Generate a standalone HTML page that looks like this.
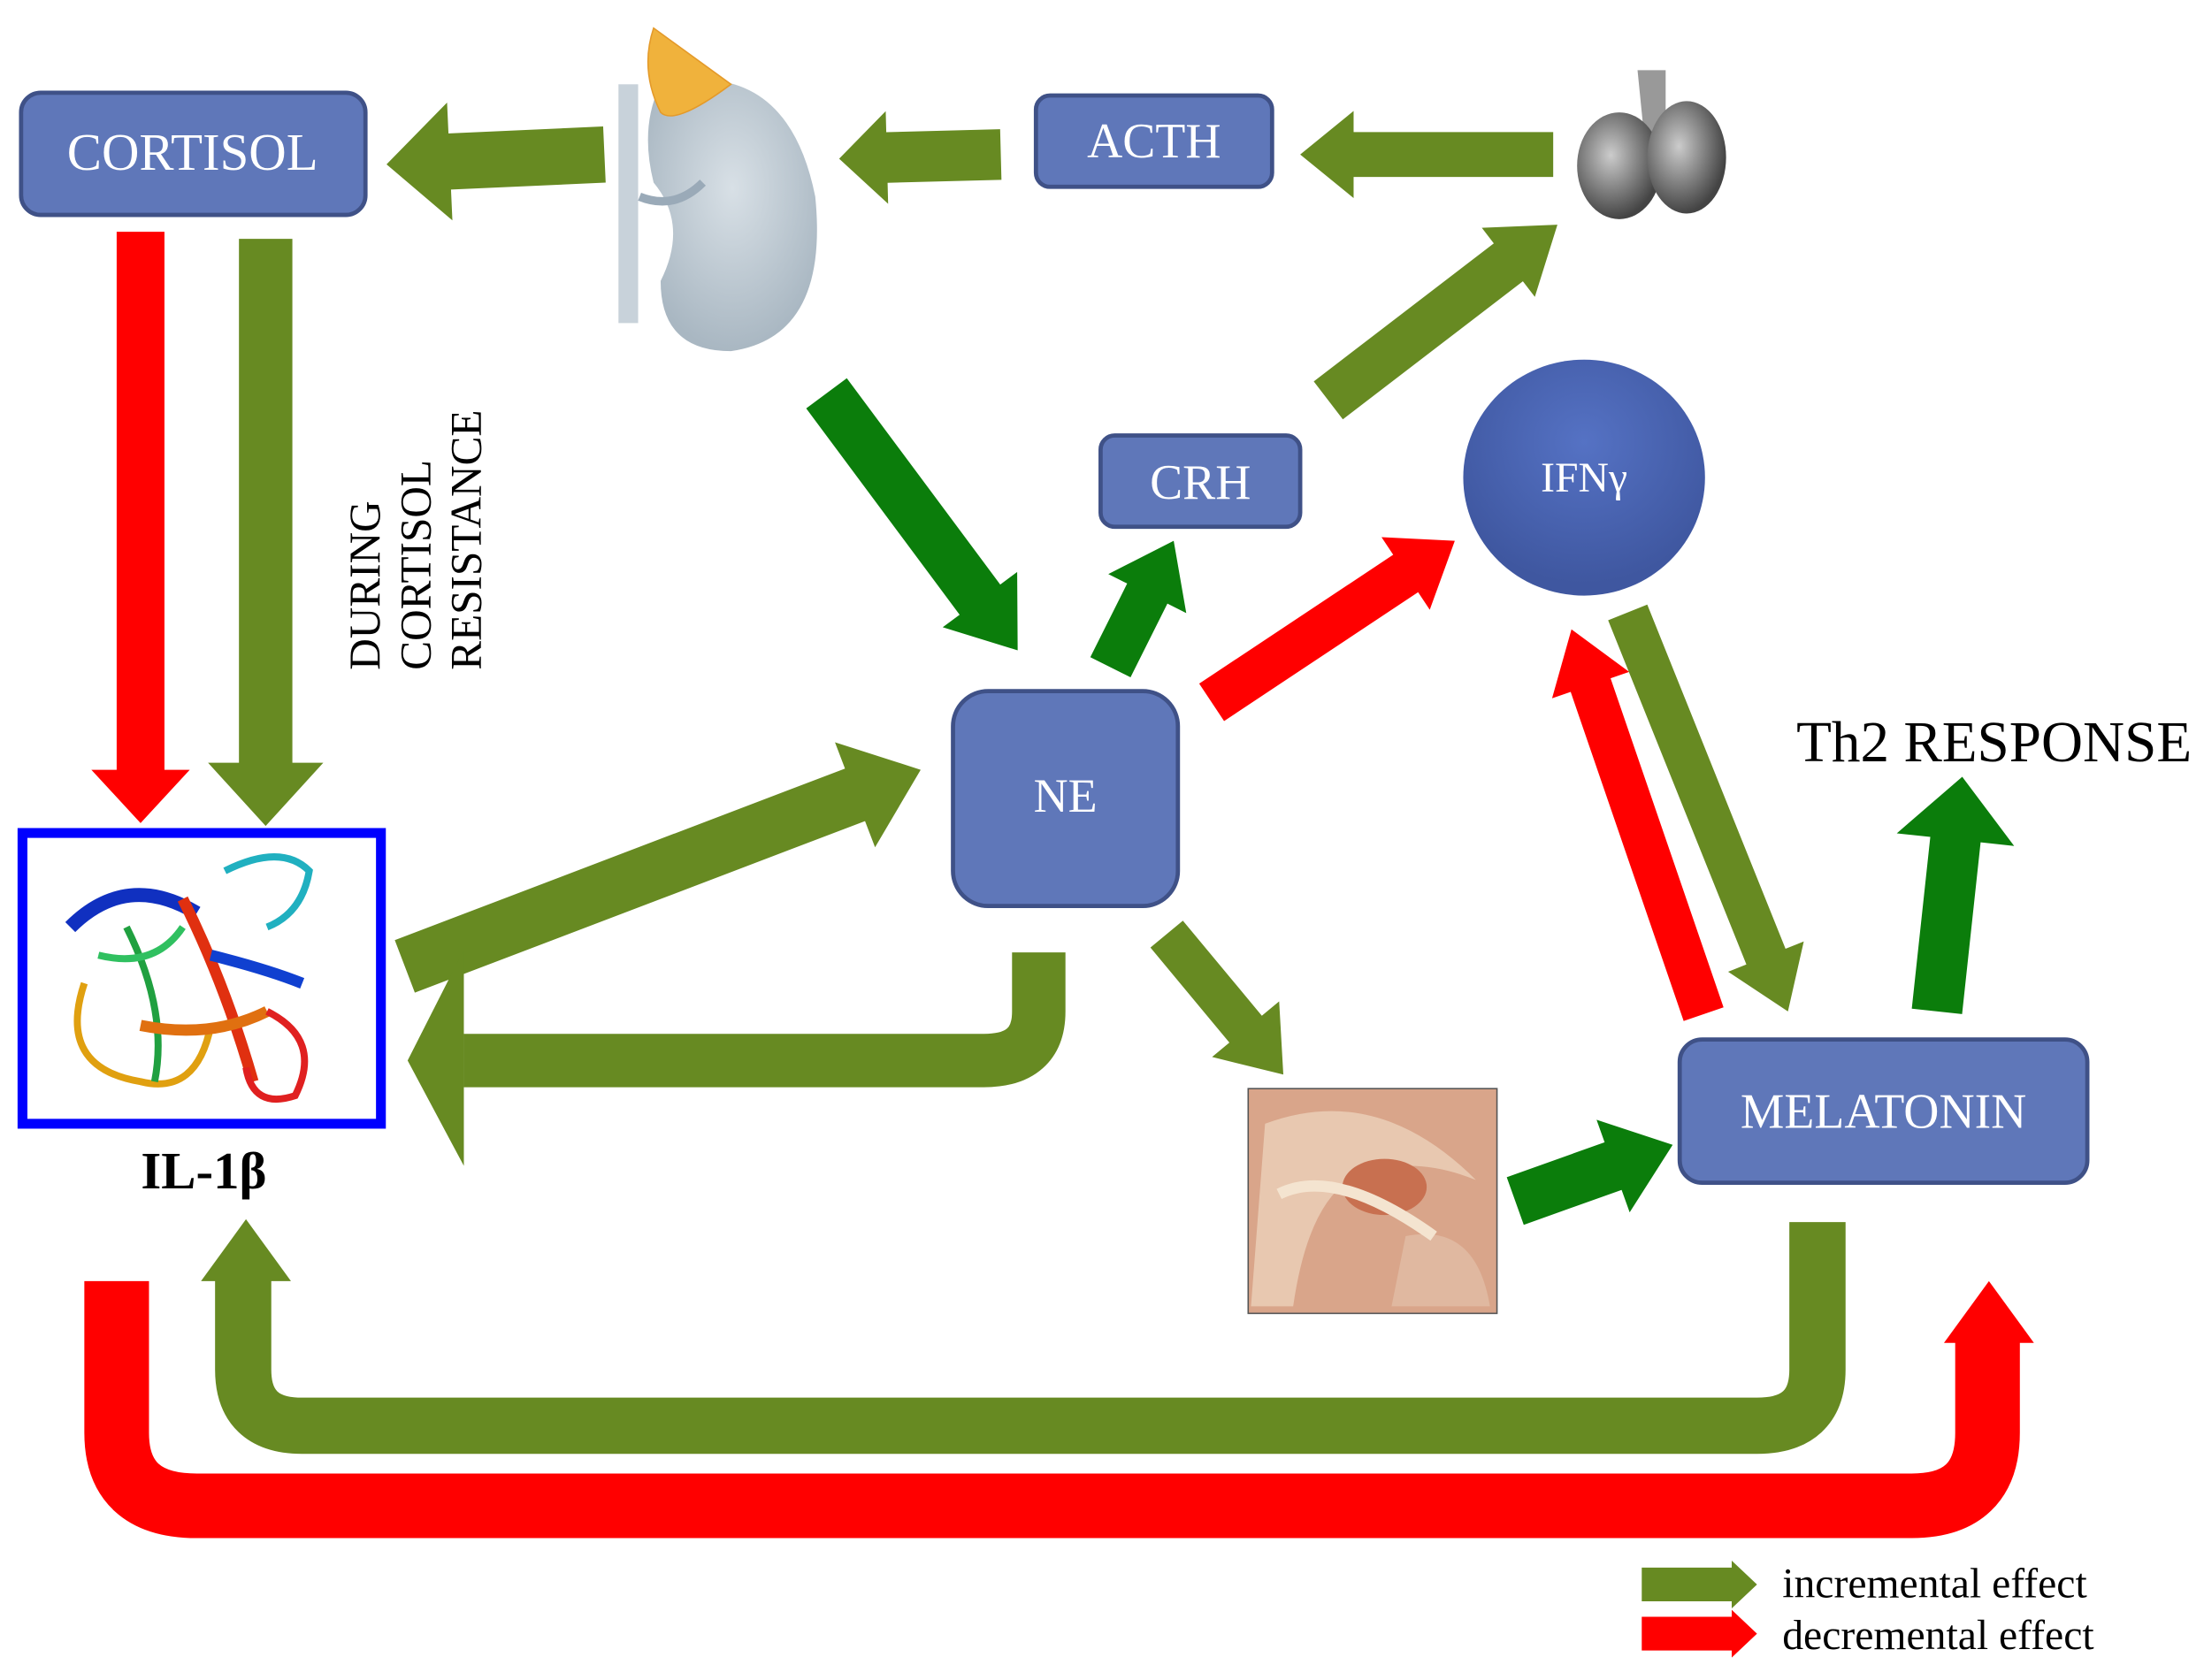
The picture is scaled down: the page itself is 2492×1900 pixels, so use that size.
<!DOCTYPE html>
<html><head><meta charset="utf-8"><style>
html,body{margin:0;padding:0;background:#fff;width:2492px;height:1900px;overflow:hidden}
svg{display:block}
text{font-family:"Liberation Serif",serif}
</style></head><body>
<svg id="s" width="2492" height="1900" viewBox="0 0 1568 1196" preserveAspectRatio="none" xmlns="http://www.w3.org/2000/svg">
<defs>
<radialGradient id="cg" cx="50%" cy="35%" r="60%"><stop offset="0" stop-color="#5572c4"/><stop offset="1" stop-color="#3f57a0"/></radialGradient>
<radialGradient id="kg" cx="50%" cy="40%" r="60%"><stop offset="0" stop-color="#d8e0e6"/><stop offset="1" stop-color="#a9b7c2"/></radialGradient>
<radialGradient id="pg" cx="40%" cy="40%" r="60%"><stop offset="0" stop-color="#ccc"/><stop offset="1" stop-color="#444"/></radialGradient>
</defs>
<g id="arrows"></g>
<rect x="15" y="66" width="245" height="87" rx="14" fill="#5f77b9" stroke="#3f5187" stroke-width="3"/>
<text x="137" y="121" font-size="37" fill="#fff" text-anchor="middle">CORTISOL</text>
<rect x="737" y="68" width="168" height="65" rx="10" fill="#5f77b9" stroke="#3f5187" stroke-width="3"/>
<text x="821" y="112" font-size="35" fill="#fff" text-anchor="middle">ACTH</text>
<rect x="783" y="310" width="142" height="65" rx="10" fill="#5f77b9" stroke="#3f5187" stroke-width="3"/>
<text x="854" y="355" font-size="35" fill="#fff" text-anchor="middle">CRH</text>
<rect x="678" y="492" width="160" height="153" rx="25" fill="#5f77b9" stroke="#3f5187" stroke-width="3"/>
<text x="758" y="578" font-size="34" fill="#fff" text-anchor="middle">NE</text>
<rect x="1195" y="740" width="290" height="102" rx="16" fill="#5f77b9" stroke="#3f5187" stroke-width="3"/>
<text x="1340" y="803" font-size="35" fill="#fff" text-anchor="middle">MELATONIN</text>
<ellipse cx="1127" cy="340" rx="86" ry="84" fill="url(#cg)"/>
<text x="1127" y="350" font-size="30" fill="#fff" text-anchor="middle">IFNγ</text>
<g>
<rect x="440" y="60" width="14" height="170" fill="#c8d2da"/>
<path d="M470 60 Q560 40 580 140 Q590 240 520 250 Q470 250 470 200 Q490 160 465 130 Q455 90 470 60Z" fill="url(#kg)"/>
<path d="M465 20 L520 60 Q480 90 470 80 Q455 50 465 20Z" fill="#f0b23c" stroke="#e49a2a"/>
<path d="M455 140 Q480 150 500 130" stroke="#9aaab8" stroke-width="6" fill="none"/>
</g>
<g>
<path d="M1165 50 L1170 100 L1185 100 L1185 50Z" fill="#999"/>
<ellipse cx="1152" cy="118" rx="30" ry="38" fill="url(#pg)"/>
<ellipse cx="1200" cy="112" rx="28" ry="40" fill="url(#pg)"/>
</g>
<g>
<rect x="888" y="775" width="177" height="160" fill="#d9a58a" stroke="#555" stroke-width="1"/>
<path d="M900 800 Q980 770 1050 840 Q1000 820 960 840 Q930 860 920 930 L890 930Z" fill="#e8c8b0"/>
<ellipse cx="985" cy="845" rx="30" ry="20" fill="#c87050"/>
<path d="M1000 880 Q1050 870 1060 930 L990 930Z" fill="#e0b8a0"/>
<path d="M910 850 Q950 830 1020 880" stroke="#f4e4d0" stroke-width="8" fill="none"/>
</g>
<rect x="16" y="593" width="255" height="207" fill="#fff" stroke="#0000ff" stroke-width="7"/>
<g fill="none" stroke-width="5">
<path d="M50 660 Q90 620 140 650" stroke="#1030c0" stroke-width="10"/>
<path d="M60 700 Q40 760 100 770 Q140 780 150 730" stroke="#e0a010"/>
<path d="M90 660 Q120 720 110 770" stroke="#20a040"/>
<path d="M130 640 Q160 700 180 770" stroke="#e03010" stroke-width="8"/>
<path d="M160 620 Q200 600 220 620 Q215 650 190 660" stroke="#20b0c0"/>
<path d="M150 680 Q190 690 215 700" stroke="#1040d0" stroke-width="8"/>
<path d="M100 730 Q150 740 190 720" stroke="#e07010" stroke-width="8"/>
<path d="M190 720 Q230 740 210 780 Q180 790 175 760" stroke="#e02020"/>
<path d="M70 680 Q110 690 130 660" stroke="#30c060"/>
</g>
<text x="145" y="846" font-size="37" font-weight="bold" text-anchor="middle">IL-1β</text>
<g transform="translate(270,477) rotate(-90)" font-size="31">
<text x="0" y="0">DURING</text>
<text x="0" y="36">CORTISOL</text>
<text x="0" y="72">RESISTANCE</text>
</g>
<text x="1278" y="542" font-size="41">Th2 RESPONSE</text>
<text x="1268" y="1137" font-size="30">incremental effect</text>
<text x="1268" y="1174" font-size="30">decremental effect</text>
</svg>
<script>
var O="#678a22",D="#0b7d0b",R="#ff0000";
var g=document.getElementById('arrows'),NS="http://www.w3.org/2000/svg";
function el(n,a){var e=document.createElementNS(NS,n);for(var k in a)e.setAttribute(k,a[k]);g.appendChild(e);return e;}
function arrow(x1,y1,x2,y2,w,hw,hl,c){
 var dx=x2-x1,dy=y2-y1,L=Math.sqrt(dx*dx+dy*dy),ux=dx/L,uy=dy/L,px=-uy,py=ux;
 var bx=x2-ux*hl,by=y2-uy*hl;
 var p=[[x1+px*w/2,y1+py*w/2],[bx+px*w/2,by+py*w/2],[bx+px*hw/2,by+py*hw/2],[x2,y2],[bx-px*hw/2,by-py*hw/2],[bx-px*w/2,by-py*w/2],[x1-px*w/2,y1-py*w/2]];
 el('polygon',{points:p.map(function(q){return q.join(',')}).join(' '),fill:c});
}
arrow(1105,110,925,110,32,62,38,O);
arrow(712,110,597,113,36,66,34,O);
arrow(430,110,275,117,40,84,45,O);
arrow(100,165,100,586,34,70,38,R);
arrow(189,170,189,588,38,82,45,O);
arrow(588,280,724,463,36,66,45,D);
arrow(790,475,835,385,32,62,42,D);
arrow(945,285,1108,160,34,62,44,O);
arrow(862,500,1035,385,32,62,42,R);
arrow(288,688,655,548,40,80,50,O);
arrow(830,665,913,765,30,62,42,O);
arrow(1078,855,1190,815,36,70,45,D);
arrow(1212,722,1118,448,30,58,42,R);
arrow(1158,436,1272,720,30,58,42,O);
arrow(1378,720,1396,553,36,84,45,D);
arrow(1168,1128,1250,1128,24,34,18,O);
arrow(1168,1163,1250,1163,24,34,18,R);
el('path',{d:"M739 678 L739 720 Q739 755 700 755 L330 755",fill:"none",stroke:O,"stroke-width":38});
el('polygon',{points:"330,676 290,755 330,830",fill:O});
el('path',{d:"M83 912 L83 1020 Q83 1072 140 1072 L1360 1072 Q1414 1072 1414 1020 L1414 955",fill:"none",stroke:R,"stroke-width":46});
el('polygon',{points:"1383,956 1415,912 1447,956",fill:R});
el('path',{d:"M1293 870 L1293 975 Q1293 1015 1250 1015 L215 1015 Q173 1015 173 975 L173 910",fill:"none",stroke:O,"stroke-width":40});
el('polygon',{points:"143,912 175,868 207,912",fill:O});
</script>
</body></html>
